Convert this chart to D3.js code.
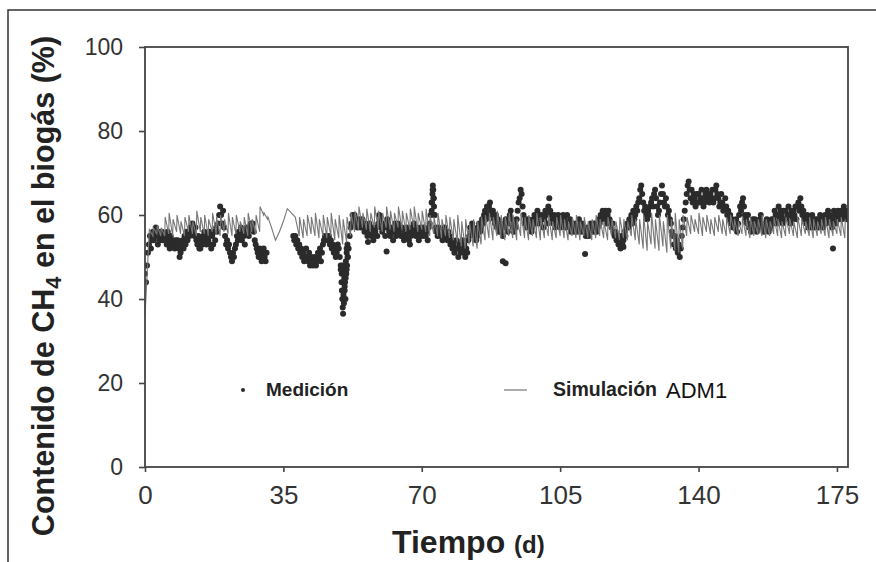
<html>
<head>
<meta charset="utf-8">
<script src="https://d3js.org/d3.v7.min.js"></script>
<style>
  body { margin: 0; background: #fff; }
  text { font-family: "Liberation Sans", Arial, sans-serif; }
</style>
</head>
<body>
<svg id="chart"></svg>
<script>
// ejes
var xTicks = [0, 35, 70, 105, 140, 175];
var yTicks = [0, 20, 40, 60, 80, 100];

// Medición: una lectura cada 0.25 d (null = sin dato)
var medStep = 0.25;
var medV = [
  46,44,48,51, 53,55,52,54, 56,54,55,57, 55,53,56,54, 55,56,54,55,
  54,55,53,56, 54,52,55,53, 54,53,52,54, 53,54,52,50, 51,53,54,52,
  55,53,56,54, 56,55,57,56, 58,56,55,57, 54,53,55,52, 52,54,53,55,
  56,54,53,55, 54,56,53,52, 55,53,56,54, 57,56,58,60, 62,60,58,61,
  57,55,53,54, 52,53,51,50, 49,51,50,52, 53,55,54,56, 55,57,54,56,
  55,53,56,57, 56,55,57,58, 57,58,56,54, 53,52,51,50, 52,50,49,51,
  52,50,49,51, null,null,null,null, null,null,null,null, null,null,null,null, null,null,null,null,
  null,null,null,null, null,null,null,null, null,null,55,54, 55,53,54,52, 53,51,52,50,
  51,49,50,52, 50,49,51,48, 49,50,48,49, 50,48,49,51, 50,52,49,51,
  53,54,55,54, 55,54,55,53, 54,52,53,51, 52,50,51,53, 52,50,48,46,
  44,40,42,45, 47,50,52,55, 57,58,60,59, 60,58,59,57, 58,59,57,58,
  59,57,56,58, 57,55,56,58, 56,55,57,54, 55,56,57,55, 58,60,59,57,
  56,58,57,55, 57,59,58,56, 55,57,56,54, 56,58,55,57, 58,56,57,55,
  57,55,54,56, 55,57,56,54, 53,55,57,56, 58,56,55,57, 56,54,55,57,
  56,55,57,56, 55,56,54,57, 58,60,63,66, 64,60,57,56, 55,57,56,55,
  56,54,55,57, 56,55,54,56, 55,53,54,52, 53,51,52,54, 52,50,53,51,
  52,54,51,53, 50,52,51,54, 55,57,56,58, 57,55,56,54, 55,57,58,56,
  57,59,58,60, 61,59,62,60, 62,63,61,60, 61,59,58,60, 57,59,56,58,
  56,57,55,58, 57,59,58,56, 58,60,61,59, 57,56,58,57, 59,61,63,64,
  66,65,62,60, 58,59,57,58, 59,57,58,56, 57,59,60,58, 59,61,58,60,
  58,60,59,57, 59,61,60,58, 62,64,61,60, 59,58,60,57, 59,58,60,59,
  57,59,58,60, 59,57,58,60, 58,57,59,56, 57,58,56,57, 58,56,57,59,
  57,56,58,57, 56,57,55,56, 57,55,56,58, 56,57,58,56, 58,56,57,59,
  58,60,59,61, 60,59,61,58, 60,61,59,58, 57,58,56,55, 56,54,55,53,
  54,52,55,53, 54,56,55,57, 58,57,59,58, 60,58,61,59, 60,62,61,63,
  64,66,67,65, 63,61,62,60, 59,61,60,62, 63,64,62,65, 66,64,62,60,
  61,63,65,67, 65,63,62,64, 62,60,61,59, 58,56,55,53, 55,52,54,51,
  53,50,52,55, 57,59,61,63, 65,67,68,66, 64,66,63,65, 64,62,65,63,
  65,63,64,66, 64,62,63,65, 66,64,65,63, 65,64,66,63, 64,66,67,65,
  64,62,63,65, 63,61,62,64, 62,60,61,59, 60,58,59,57, 58,57,59,56,
  58,60,62,61, 63,64,62,60, 59,58,60,57, 58,56,57,59, 57,59,58,56,
  58,57,59,60, 58,57,56,58, 57,59,58,56, 58,57,59,58, 59,61,60,58,
  60,62,59,61, 60,58,61,59, 61,59,60,62, 60,58,61,59, 61,60,62,59,
  62,63,61,64, 62,60,61,59, 59,58,60,57, 58,59,57,60, 58,57,59,58,
  59,57,58,60, 58,59,57,58, 60,58,59,61, 59,60,58,57, 59,61,60,58,
  60,61,59,60, 61,59,60,62, 61,60,59,61
];

// lecturas sueltas (caída del día 50, pico del día 73, puntos aislados)
var medExtraT = [49.5,49.7,49.8,49.9,50.0,50.1,50.2,50.3,50.4,50.5,50.6,50.7,50.8,50.9,51.0,51.1,51.2,51.3,
                 49.9,50.3,50.6,51.0, 72.5,72.6,72.7,72.8,72.9,73.0,73.1,73.2,
                 56.4,61.1,90.5,91.2,111.3,121.0,174.0];
var medExtraV = [47,44,42,40,38,36.5,41,39,45,43,47,40,49,46,51,48,53,50,
                 48,46,44,52, 61,63,65,67,66,64,62,60,
                 53.6,51.3,49,48.5,50.7,52.4,52];

// Simulación ADM1: valor antes de la alimentación diaria y pico tras ella (null = sin alimentación)
var simLow = [
  36,
  54.5,55,55.5,55,
  55,55.5,55,56,55.5, 55,56,55.5,55,56, 55.5,55,56,55.5,55, 56,55.5,55,55.5,56,
  55.5,55,56,55.5,
  56,
  60,59,57,54,56,58.5,61.5,60.5,59.5,
  55,54.5,55,55.5,55,54.5,
  55,54.5,55,54,54.5,
  53,53.5,
  55,56,56.5,57,56.5, 56,57,56.5,56,57, 56.5,56,57,56.5,56, 56.5,57,56,56.5,56,
  55,55.5,55,54.5,55,
  54.5,54,53.5,
  52.5,52,53,52.5,52,53,
  54,54.5,54,55,54.5, 54,55,54.5,54,55, 54.5,54,55,54.5,54, 54.5,55,54,54.5,55,
  54.5,54,55,54.5,54, 55,54.5,54,54.5,55, 54.5,54,55,54.5,54,
  54.5,54,55,54,
  53,52,51.5,53,52, 51.5,52.5,51,52,51.5,
  51,52,
  55,55.5,56,55.5,55, 56,55.5,55,56,55.5, 55,55.5,56,55,55.5, 55,54.5,55,55.5,55,
  54.5,55,55.5,55,54.5, 55,55.5,55,54.5,55, 55.5,55,54.5,55,55.5,
  55,54.5,55,55.5,55,54.5
];
var simHigh = [
  null,
  56.5,57,57.5,57,
  59.5,60.5,59,60,58.5, 59.5,60,58.5,61,59.5, 60,59,60.5,59.5,60, 59,60.5,59.5,60,58.5,
  59.5,60.5,59,60,
  62,
  60.5,59.5,null,null,null,null,null,null,null,
  59.5,59,60,59.5,60.5,59,
  60,59.5,60.5,59,60,
  59,59.5,
  60.5,61,62,60.5,61.5, 60.5,62,61,60.5,62, 61,60.5,62,61,60.5, 61.5,62,60.5,61,61.5,
  60,59.5,60.5,59,60,
  59.5,59,60,
  58.5,59,58,59,58.5,59.5,
  60,60.5,59.5,61,60, 59.5,60.5,60,59,60.5, 59.5,60,59,60.5,59.5, 59,60,58.5,59.5,60,
  59,58.5,59.5,60,58.5, 59.5,58.5,59,60,59, 58.5,59.5,59,58.5,59.5,
  59,58.5,60,59,
  59,60,58.5,60.5,59, 60,58.5,60,59,60.5,
  59,60,
  59.5,60,59,60.5,59.5, 60,59,59.5,60,59, 59.5,60,59,58.5,59.5, 59,59.5,58.5,59,60,
  59,58.5,59.5,59,58.5, 59.5,59,58.5,59.5,59, 58.5,59.5,59,58.5,59,
  59.5,59,58.5,59,59.5,59
];

var W = 876, H = 562;
var margin = {left: 145, top: 47, right: 28, bottom: 95};
var pw = W - margin.left - margin.right;
var ph = H - margin.top - margin.bottom;

var svg = d3.select("#chart").attr("width", W).attr("height", H);

// marco exterior (solo se ven los bordes superior e izquierdo)
svg.append("rect")
  .attr("x", 8).attr("y", 10).attr("width", W + 20).attr("height", H + 20)
  .attr("fill", "none").attr("stroke", "#333").attr("stroke-width", 1.5);

var x = d3.scaleLinear().domain([0, 177.8]).range([0, pw]);
var y = d3.scaleLinear().domain([0, 100]).range([ph, 0]);

var g = svg.append("g").attr("transform", "translate(" + margin.left + "," + margin.top + ")");

g.append("clipPath").attr("id", "clip")
  .append("rect").attr("x", 0).attr("y", 0).attr("width", pw).attr("height", ph);

// puntos medidos
var med = [];
medV.forEach(function(v, i) { if (v != null) med.push([i * medStep, v]); });
medExtraT.forEach(function(t, i) { med.push([t, medExtraV[i]]); });

g.append("g").attr("clip-path", "url(#clip)")
  .selectAll("circle").data(med).enter()
  .append("circle")
  .attr("cx", function(d) { return x(d[0]); })
  .attr("cy", function(d) { return y(d[1]); })
  .attr("r", 3)
  .attr("fill", "#2b2b2b");

// línea simulada
var sim = [];
for (var i = 0; i < simLow.length; ++i) {
  sim.push([i, simLow[i]]);
  if (simHigh[i] != null) sim.push([i + 0.1, simHigh[i]]);
}
g.append("path").datum(sim)
  .attr("clip-path", "url(#clip)")
  .attr("d", d3.line().x(function(d) { return x(d[0]); }).y(function(d) { return y(d[1]); }))
  .attr("fill", "none").attr("stroke", "#777").attr("stroke-width", 1.1);

// caja del gráfico
g.append("rect").attr("x", 0).attr("y", 0).attr("width", pw).attr("height", ph)
  .attr("fill", "none").attr("stroke", "#444").attr("stroke-width", 1.8);

// ejes
var ax = g.append("g").attr("transform", "translate(0," + ph + ")")
  .call(d3.axisBottom(x).tickValues(xTicks).tickSize(5).tickPadding(14));
var ay = g.append("g")
  .call(d3.axisLeft(y).tickValues(yTicks).tickSize(6).tickPadding(16));
[ax, ay].forEach(function(a) {
  a.select(".domain").remove();
  a.selectAll(".tick line").attr("stroke", "#444").attr("stroke-width", 1.6);
  a.selectAll(".tick text").attr("fill", "#333")
    .style("font-family", "'Liberation Sans', Arial, sans-serif");
});
ax.selectAll(".tick text").style("font-size", "26px");
ay.selectAll(".tick text").style("font-size", "23px");

// títulos
var yt = svg.append("text")
  .attr("transform", "translate(54,286) rotate(-90)")
  .attr("text-anchor", "middle")
  .attr("fill", "#222").style("font-weight", "bold").style("font-size", "30.5px");
yt.append("tspan").text("Contenido de CH");
yt.append("tspan").attr("dy", 7).style("font-size", "22px").text("4");
yt.append("tspan").attr("dy", -7).text(" en el biogás (%)");

var xt = svg.append("text").attr("x", 392).attr("y", 553)
  .attr("fill", "#222").style("font-weight", "bold").style("font-size", "32px");
xt.append("tspan").text("Tiempo ");
xt.append("tspan").style("font-size", "24px").text("(d)");

// leyenda
var leg = svg.append("g");
leg.append("circle").attr("cx", 243).attr("cy", 390).attr("r", 2).attr("fill", "#2b2b2b");
leg.append("text").attr("x", 266).attr("y", 396).attr("fill", "#222")
  .style("font-weight", "bold").style("font-size", "19px").text("Medición");
leg.append("line").attr("x1", 504).attr("x2", 527).attr("y1", 390).attr("y2", 390)
  .attr("stroke", "#777").attr("stroke-width", 1.2);
leg.append("text").attr("x", 553).attr("y", 396).attr("fill", "#222")
  .style("font-weight", "bold").style("font-size", "19.5px").text("Simulación");
leg.append("text").attr("x", 666).attr("y", 398).attr("fill", "#111")
  .style("font-size", "22px").text("ADM1");
</script>
</body>
</html>
